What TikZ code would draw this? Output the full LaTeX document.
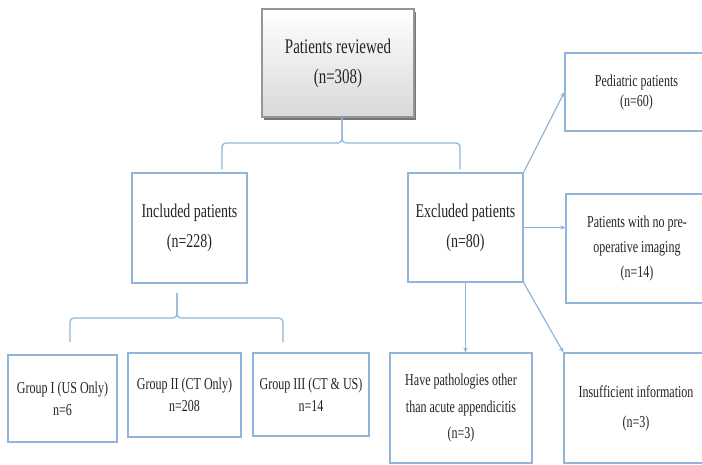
\documentclass[tikz,border=0pt]{standalone}
\usepackage{fontspec}
\setmainfont{Liberation Serif}[FakeStretch=0.72]
\usetikzlibrary{positioning, arrows.meta, shadows, calc}
\definecolor{lineblue}{RGB}{145, 180, 218}
\definecolor{textgray}{RGB}{35, 35, 35}
\definecolor{framegray}{RGB}{150, 150, 150}

\begin{document}
\begin{tikzpicture}[x=1pt, y=-1pt, font=\fontsize{16.7}{22}\selectfont,
    >={Stealth[length=5pt, width=4.5pt]},
    box/.style={draw=lineblue, line width=1.2pt, align=center, text=textgray, inner sep=2pt},
    link/.style={draw=lineblue, line width=1.2pt, rounded corners=4pt}]
  \useasboundingbox (0,0) rectangle (702,464);
  \clip (0,0) rectangle (702,464);
  % Top: all reviewed patients
  \node[box, draw=framegray, top color=white, bottom color=black!15,
        drop shadow={shadow xshift=2pt, shadow yshift=-3pt, fill=black!60, opacity=0.9},
        minimum width=152pt, minimum height=108pt, font=\fontsize{20.8}{30}\selectfont]
        (reviewed) at (338, 63) {Patients reviewed\\(n=308)};
  % Middle: included / excluded
  \node[box, minimum width=115pt, minimum height=110pt, font=\fontsize{19.4}{30}\selectfont]
        (included) at (189.5, 228) {Included patients\\(n=228)};
  \node[box, minimum width=115pt, minimum height=109pt, font=\fontsize{19.4}{30}\selectfont]
        (excluded) at (465.5, 227.5) {Excluded patients\\(n=80)};
  % Bottom left: study groups
  \node[box, minimum width=109pt, minimum height=87pt] (groupA) at (62.5, 398.5) {Group I (US Only)\\n=6};
  \node[box, minimum width=113pt, minimum height=84pt] (groupB) at (184.5, 395) {Group II (CT Only)\\n=208};
  \node[box, minimum width=116pt, minimum height=83pt] (groupC) at (311, 394.5) {Group III (CT \& US)\\n=14};
  % Right: reasons for exclusion
  \node[box, minimum width=143pt, minimum height=78pt, font=\fontsize{16.7}{20}\selectfont]
        (pediatric) at (636.5, 92) {Pediatric patients\\(n=60)};
  \node[box, minimum width=142pt, minimum height=109pt, font=\fontsize{16.7}{25}\selectfont]
        (noimaging) at (637, 248.5) {Patients with no pre-\\operative imaging\\(n=14)};
  \node[box, minimum width=142pt, minimum height=110pt, font=\fontsize{16.7}{26.5}\selectfont]
        (pathology) at (461, 408) {Have pathologies other\\than acute appendicitis\\(n=3)};
  \node[box, minimum width=144pt, minimum height=110pt, font=\fontsize{16.7}{30}\selectfont]
        (insufficient) at (636, 408) {Insufficient information\\(n=3)};
  % Braces
  \coordinate (topL) at (222, 169);
  \coordinate (topR) at (460, 169);
  \coordinate (topM) at (342, 143);
  \draw[link] (topL) |- (topM) -- (reviewed.south -| topM);
  \draw[link] (topR) |- (topM) -- (reviewed.south -| topM);
  \coordinate (lowL) at (70, 342);
  \coordinate (lowR) at (283, 342);
  \coordinate (lowM) at (177, 318);
  \coordinate (lowS) at (177, 293);
  \draw[link] (lowL) |- (lowM) -- (lowS);
  \draw[link] (lowR) |- (lowM) -- (lowS);
  % Arrows out of the excluded box
  \draw[link, ->] (excluded.north east) -- (pediatric.west);
  \draw[link, ->] (excluded.east) -- (excluded.east -| noimaging.west);
  \draw[link, ->] (excluded.south) -- (excluded.south |- pathology.north);
  \draw[link, ->] (excluded.south east) -- (insufficient.north west);
\end{tikzpicture}
\end{document}
